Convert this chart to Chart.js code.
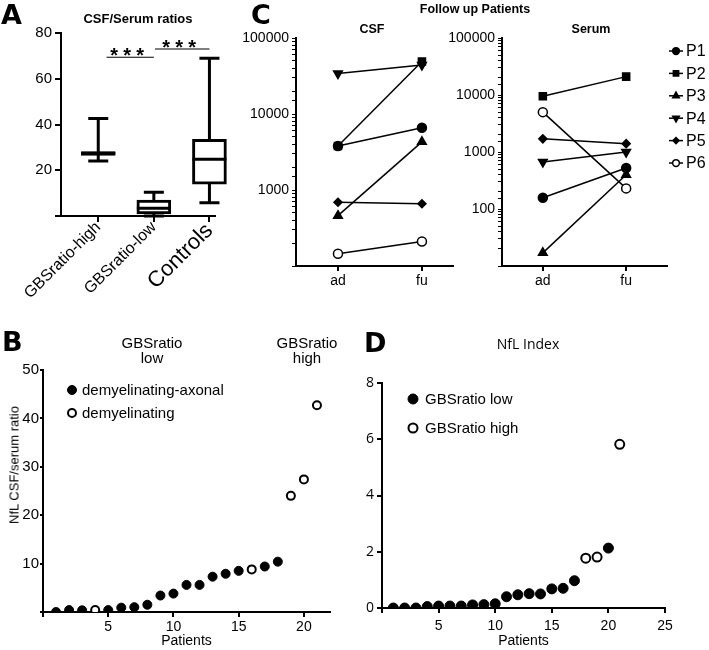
<!DOCTYPE html>
<html>
<head>
<meta charset="utf-8">
<script src="https://cdn.jsdelivr.net/npm/chart.js@4.4.1/dist/chart.umd.min.js"></script>
<style>
  body { margin: 0; background: #fff; width: 709px; height: 650px; position: relative; overflow: hidden;
         font-family: Arial, "Liberation Sans", sans-serif; color: #000; }
  canvas { position: absolute; }
  .txt { position: absolute; white-space: nowrap; transform: translate(-50%, -50%); text-align: center; }
  .panel { position: absolute; font-family: "DejaVu Sans", sans-serif; font-weight: bold; font-size: 27px; line-height: 26px; }
</style>
</head>
<body>
<canvas id="chartA" width="235" height="300" style="left:0;top:0"></canvas>
<canvas id="chartCsf" width="230" height="300" style="left:235px;top:0"></canvas>
<canvas id="chartSerum" width="269" height="300" style="left:440px;top:0"></canvas>
<canvas id="chartB" width="345" height="345" style="left:0;top:305px"></canvas>
<canvas id="chartD" width="364" height="345" style="left:345px;top:305px"></canvas>

<div class="panel" style="left:1px;top:2px">A</div>
<div class="panel" style="left:251px;top:2px">C</div>
<div class="panel" style="left:2px;top:329px">B</div>
<div class="panel" style="left:364px;top:330px">D</div>

<div class="txt" style="left:138px;top:18px;font-weight:bold;font-size:13px">CSF/Serum ratios</div>
<div class="txt" style="left:475px;top:9px;font-weight:bold;font-size:12.5px">Follow up Patients</div>
<div class="txt" style="left:372px;top:29px;font-weight:bold;font-size:12.5px">CSF</div>
<div class="txt" style="left:591px;top:29px;font-weight:bold;font-size:12.5px">Serum</div>
<div class="txt" style="left:152px;top:350px;font-size:15px;line-height:15px">GBSratio<br>low</div>
<div class="txt" style="left:307px;top:350px;font-size:15px;line-height:15px">GBSratio<br>high</div>
<div class="txt" style="left:14px;top:465px;font-size:13px;transform:translate(-50%,-50%) rotate(-90deg)">NfL CSF/serum ratio</div>
<div class="txt" style="left:528px;top:343px;font-size:14px;font-family:'Open Sans',sans-serif">NfL Index</div>

<script>
// ---- A: CSF/Serum ratios (box plots) ----
const boxGroups = ['GBSratio-high', 'GBSratio-low', 'Controls'];
const boxMin = [24, 0, 5.8];
const boxQ1 = [26.5, 0.9, 13.9];
const boxMedian = [27.5, 3.4, 24.8];
const boxQ3 = [28, 7.0, 33.5];
const boxMax = [42.6, 10.4, 69];
const sigFrom = [0.15, 1.02];
const sigTo = [1, 2];
const sigLevel = [69.4, 73];

// ---- C: follow up patients ----
const followTimes = ['ad', 'fu'];
const patients = ['P1', 'P2', 'P3', 'P4', 'P5', 'P6'];
const csfAd = [3800, 3800, 460, 34000, 690, 145];
const csfFu = [6600, 49000, 4300, 44000, 660, 210];
const serumAd = [158, 9500, 17, 670, 1700, 5000];
const serumFu = [525, 21000, 400, 1000, 1400, 230];

// ---- B: NfL CSF/serum ratio per patient ----
const ratioPatients = [1, 2, 3, 4, 5, 6, 7, 8, 9, 10, 11, 12, 13, 14, 15, 16, 17, 18, 19, 20, 21];
const ratioValues = [0, 0.4, 0.35, 0.4, 0.4, 0.9, 1.0, 1.5, 3.4, 3.8, 5.6, 5.6, 7.3, 7.9, 8.5, 8.8, 9.4, 10.4, 24.0, 27.4, 42.7];
const ratioDemyelinating = [0, 0, 0, 1, 0, 0, 0, 0, 0, 0, 0, 0, 0, 0, 0, 1, 0, 0, 1, 1, 1];

// ---- D: NfL index per patient ----
const indexPatients = [1, 2, 3, 4, 5, 6, 7, 8, 9, 10, 11, 12, 13, 14, 15, 16, 17, 18, 19, 20, 21];
const indexValues = [0, 0, 0, 0.05, 0.07, 0.07, 0.07, 0.11, 0.12, 0.15, 0.4, 0.47, 0.51, 0.5, 0.68, 0.7, 0.97, 1.77, 1.81, 2.13, 5.82];
const indexHigh = [0, 0, 0, 0, 0, 0, 0, 0, 0, 0, 0, 0, 0, 0, 0, 0, 0, 1, 1, 0, 1];

Chart.defaults.font.family = 'Arial, "Liberation Sans", sans-serif';
Chart.defaults.color = '#000';
Chart.defaults.animation = false;
Chart.defaults.plugins.legend.display = false;
Chart.defaults.plugins.tooltip.enabled = false;

const fixWidth = w => s => { s.width = w; };
const fixHeight = h => s => { s.height = h; };
const axisGrid = len => ({ drawOnChartArea: false, color: '#000', lineWidth: 2, tickLength: len });
const axisBorder = { color: '#000', width: 2 };

function drawMarker(ctx, opts, x, y) {
  if (Chart.helpers && Chart.helpers.drawPoint) {
    Chart.helpers.drawPoint(ctx, opts, x, y);
  } else {
    ctx.beginPath();
    ctx.arc(x, y, opts.radius, 0, Math.PI * 2);
    ctx.fill();
    ctx.stroke();
  }
}

// whiskers, medians and significance bars for panel A
const boxPlotPlugin = {
  id: 'boxPlot',
  beforeDatasetsDraw(chart) {
    const { ctx, scales: { x, y } } = chart;
    const capHalf = 10;
    ctx.save();
    ctx.strokeStyle = '#000';
    ctx.lineWidth = 3;
    boxGroups.forEach((g, i) => {
      const cx = x.getPixelForValue(i);
      const yMax = y.getPixelForValue(boxMax[i]);
      const yMin = y.getPixelForValue(boxMin[i]);
      ctx.beginPath();
      ctx.moveTo(cx, yMax); ctx.lineTo(cx, yMin);
      ctx.moveTo(cx - capHalf, yMax); ctx.lineTo(cx + capHalf, yMax);
      ctx.moveTo(cx - capHalf, yMin); ctx.lineTo(cx + capHalf, yMin);
      ctx.stroke();
    });
    ctx.restore();
  },
  afterDatasetsDraw(chart) {
    const { ctx, scales: { x, y } } = chart;
    ctx.save();
    ctx.strokeStyle = '#000';
    ctx.lineWidth = 3;
    boxGroups.forEach((g, i) => {
      const cx = x.getPixelForValue(i);
      const ym = y.getPixelForValue(boxMedian[i]);
      ctx.beginPath();
      ctx.moveTo(cx - 17, ym); ctx.lineTo(cx + 17, ym);
      ctx.stroke();
    });
    // *** bars
    ctx.lineWidth = 1.2;
    ctx.fillStyle = '#000';
    ctx.font = 'bold 20px Arial, "Liberation Sans", sans-serif';
    ctx.textAlign = 'center';
    ctx.textBaseline = 'middle';
    sigLevel.forEach((lvl, k) => {
      const x0 = x.getPixelForValue(sigFrom[k]);
      const x1 = x.getPixelForValue(sigTo[k]);
      const yy = y.getPixelForValue(lvl);
      ctx.beginPath();
      ctx.moveTo(x0, yy); ctx.lineTo(x1, yy);
      ctx.stroke();
      const mid = (x0 + x1) / 2 - 3;
      [-13, 0, 13].forEach(d => ctx.fillText('*', mid + d, yy - 1));
    });
    ctx.restore();
  }
};

// legend drawn inside the canvas (markers taken from the datasets)
const innerLegend = {
  id: 'innerLegend',
  afterDraw(chart, args, opts) {
    if (!opts || opts.x === undefined) return;
    const { ctx } = chart;
    const scale = opts.markerScale || 1;
    ctx.save();
    ctx.font = opts.font;
    ctx.textBaseline = 'middle';
    ctx.textAlign = 'left';
    chart.data.datasets.forEach((ds, i) => {
      const y = opts.y + i * opts.rowGap;
      ctx.strokeStyle = '#000';
      if (opts.line) {
        ctx.lineWidth = 1.5;
        ctx.beginPath();
        ctx.moveTo(opts.x - opts.line, y); ctx.lineTo(opts.x + opts.line, y);
        ctx.stroke();
      }
      ctx.fillStyle = ds.pointBackgroundColor;
      ctx.lineWidth = ds.pointBorderWidth;
      drawMarker(ctx, { pointStyle: ds.pointStyle || 'circle', rotation: ds.pointRotation || 0,
        radius: ds.pointRadius * scale, borderWidth: ds.pointBorderWidth }, opts.x, y);
      ctx.fillStyle = '#000';
      ctx.fillText(ds.label, opts.textX, y + 1);
    });
    ctx.restore();
  }
};

// ---------- Panel A ----------
new Chart(document.getElementById('chartA'), {
  type: 'bar',
  data: {
    datasets: [{
      data: boxGroups.map((g, i) => ({ x: i, y: [boxQ1[i], boxQ3[i]] })),
      backgroundColor: '#fff',
      borderColor: '#000',
      borderWidth: 3,
      borderSkipped: false,
      barThickness: 34,
      clip: false
    }]
  },
  options: {
    responsive: false,
    layout: { padding: { top: 33, right: 20, left: 0, bottom: 0 } },
    scales: {
      x: {
        type: 'linear', min: -0.67, max: 2.1, offset: false,
        afterBuildTicks: s => { s.ticks = boxGroups.map((g, i) => ({ value: i })); },
        afterFit: fixHeight(84),
        ticks: {
          autoSkip: false, minRotation: 45, maxRotation: 45, padding: -4,
          callback: (v, i) => boxGroups[i],
          font: c => ({ size: c.index === 2 ? 22 : 16 })
        },
        grid: Object.assign(axisGrid(6), { offset: false }),
        border: axisBorder
      },
      y: {
        min: 0, max: 80,
        afterFit: fixWidth(61),
        ticks: { stepSize: 20, padding: 3, font: { size: 15 }, callback: v => (v === 0 ? '' : v) },
        grid: axisGrid(6),
        border: axisBorder
      }
    }
  },
  plugins: [boxPlotPlugin]
});

// ---------- Panel C ----------
const markerStyle = ['circle', 'rect', 'triangle', 'triangle', 'rectRot', 'circle'];
const markerRotation = [0, 0, 0, 180, 0, 0];
const markerRadius = [4.5, 5, 5, 5, 4, 4.5];
const markerFill = ['#000', '#000', '#000', '#000', '#000', '#fff'];

function followChart(id, adVals, fuVals, yMin, labelFrom, xMin, xMax, yWidth, padRight, legend) {
  const datasets = patients.map((p, i) => ({
    label: p,
    data: [{ x: 0, y: adVals[i] }, { x: 1, y: fuVals[i] }],
    borderColor: '#000',
    borderWidth: 1.5,
    pointStyle: markerStyle[i],
    pointRotation: markerRotation[i],
    pointRadius: markerRadius[i],
    pointBackgroundColor: markerFill[i],
    pointBorderColor: '#000',
    pointBorderWidth: 1.5
  }));
  return new Chart(document.getElementById(id), {
    type: 'line',
    data: { datasets },
    options: {
      responsive: false,
      layout: { padding: { top: 38, right: padRight, left: 0, bottom: 0 } },
      plugins: { innerLegend: legend || {} },
      scales: {
        x: {
          type: 'linear', min: xMin, max: xMax,
          afterBuildTicks: s => { s.ticks = followTimes.map((t, i) => ({ value: i })); },
          afterFit: fixHeight(34),
          ticks: { autoSkip: false, padding: 2, font: { size: 14 }, callback: (v, i) => followTimes[i] },
          grid: axisGrid(5),
          border: axisBorder
        },
        y: {
          type: 'logarithmic', min: yMin, max: 100000,
          afterFit: fixWidth(yWidth),
          ticks: {
            autoSkip: false, padding: 3, font: { size: 14 },
            callback: v => {
              const l = Math.log10(v);
              return (Math.abs(l - Math.round(l)) < 1e-6 && v >= labelFrom) ? String(Math.round(v)) : '';
            }
          },
          grid: { drawOnChartArea: false, color: '#000', lineWidth: 1, tickLength: 4 },
          border: axisBorder
        }
      }
    },
    plugins: [innerLegend]
  });
}

followChart('chartCsf', csfAd, csfFu, 100, 1000, -0.5, 1.37, 61, 12);
followChart('chartSerum', serumAd, serumFu, 10, 100, -0.49, 1.49, 62, 42,
  { x: 236, y: 51, rowGap: 22.4, line: 7, textX: 246, markerScale: 0.75,
    font: '16px Arial, "Liberation Sans", sans-serif' });

// ---------- Panels B and D ----------
function scatterChart(id, xs, ys, flags, names, radius, opts) {
  const filled = { label: names[0], data: [], pointRadius: radius, pointBackgroundColor: '#000',
    pointBorderColor: '#000', pointBorderWidth: 1, showLine: false };
  const open = { label: names[1], data: [], pointRadius: radius - 0.5, pointBackgroundColor: '#fff',
    pointBorderColor: '#000', pointBorderWidth: 2, showLine: false };
  xs.forEach((p, i) => (flags[i] ? open : filled).data.push({ x: p, y: ys[i] }));
  return new Chart(document.getElementById(id), {
    type: 'scatter',
    data: { datasets: [filled, open] },
    options: {
      responsive: false,
      layout: { padding: opts.padding },
      plugins: { innerLegend: opts.legend },
      scales: {
        x: {
          type: 'linear', min: 0, max: opts.xMax,
          afterFit: fixHeight(opts.xHeight),
          ticks: { stepSize: 5, includeBounds: false, padding: opts.xPad, font: { size: 14 },
            callback: v => (v === 0 ? '' : v) },
          title: { display: true, text: 'Patients', font: { size: 14 }, padding: { top: 0, bottom: 0 } },
          grid: axisGrid(5),
          border: axisBorder
        },
        y: {
          min: 0, max: opts.yMax,
          afterFit: fixWidth(opts.yWidth),
          ticks: { stepSize: opts.yStep, padding: opts.yPad, font: opts.yFont,
            callback: v => (v === 0 && !opts.showZero ? '' : v) },
          grid: axisGrid(opts.yTick),
          border: axisBorder
        }
      }
    },
    plugins: [innerLegend]
  });
}

scatterChart('chartB', ratioPatients, ratioValues, ratioDemyelinating,
  ['demyelinating-axonal', 'demyelinating'], 4.5, {
    padding: { top: 65, right: 15, left: 0, bottom: 0 },
    xMax: 22, xHeight: 38, xPad: 2, yMax: 50, yStep: 10, yWidth: 43, yPad: 1, yTick: 3, showZero: false,
    yFont: { size: 15 },
    legend: { x: 72, y: 85, rowGap: 23, textX: 82, font: '15px Arial, "Liberation Sans", sans-serif' }
  });

scatterChart('chartD', indexPatients, indexValues, indexHigh,
  ['GBSratio low', 'GBSratio high'], 5, {
    padding: { top: 78, right: 44, left: 0, bottom: 0 },
    xMax: 25, xHeight: 42, xPad: 5, yMax: 8, yStep: 2, yWidth: 37, yPad: 3, yTick: 5, showZero: true,
    yFont: { size: 14, family: '"Open Sans", sans-serif' },
    legend: { x: 68, y: 94, rowGap: 29, textX: 80, font: '15px Arial, "Liberation Sans", sans-serif' }
  });
</script>
</body>
</html>
